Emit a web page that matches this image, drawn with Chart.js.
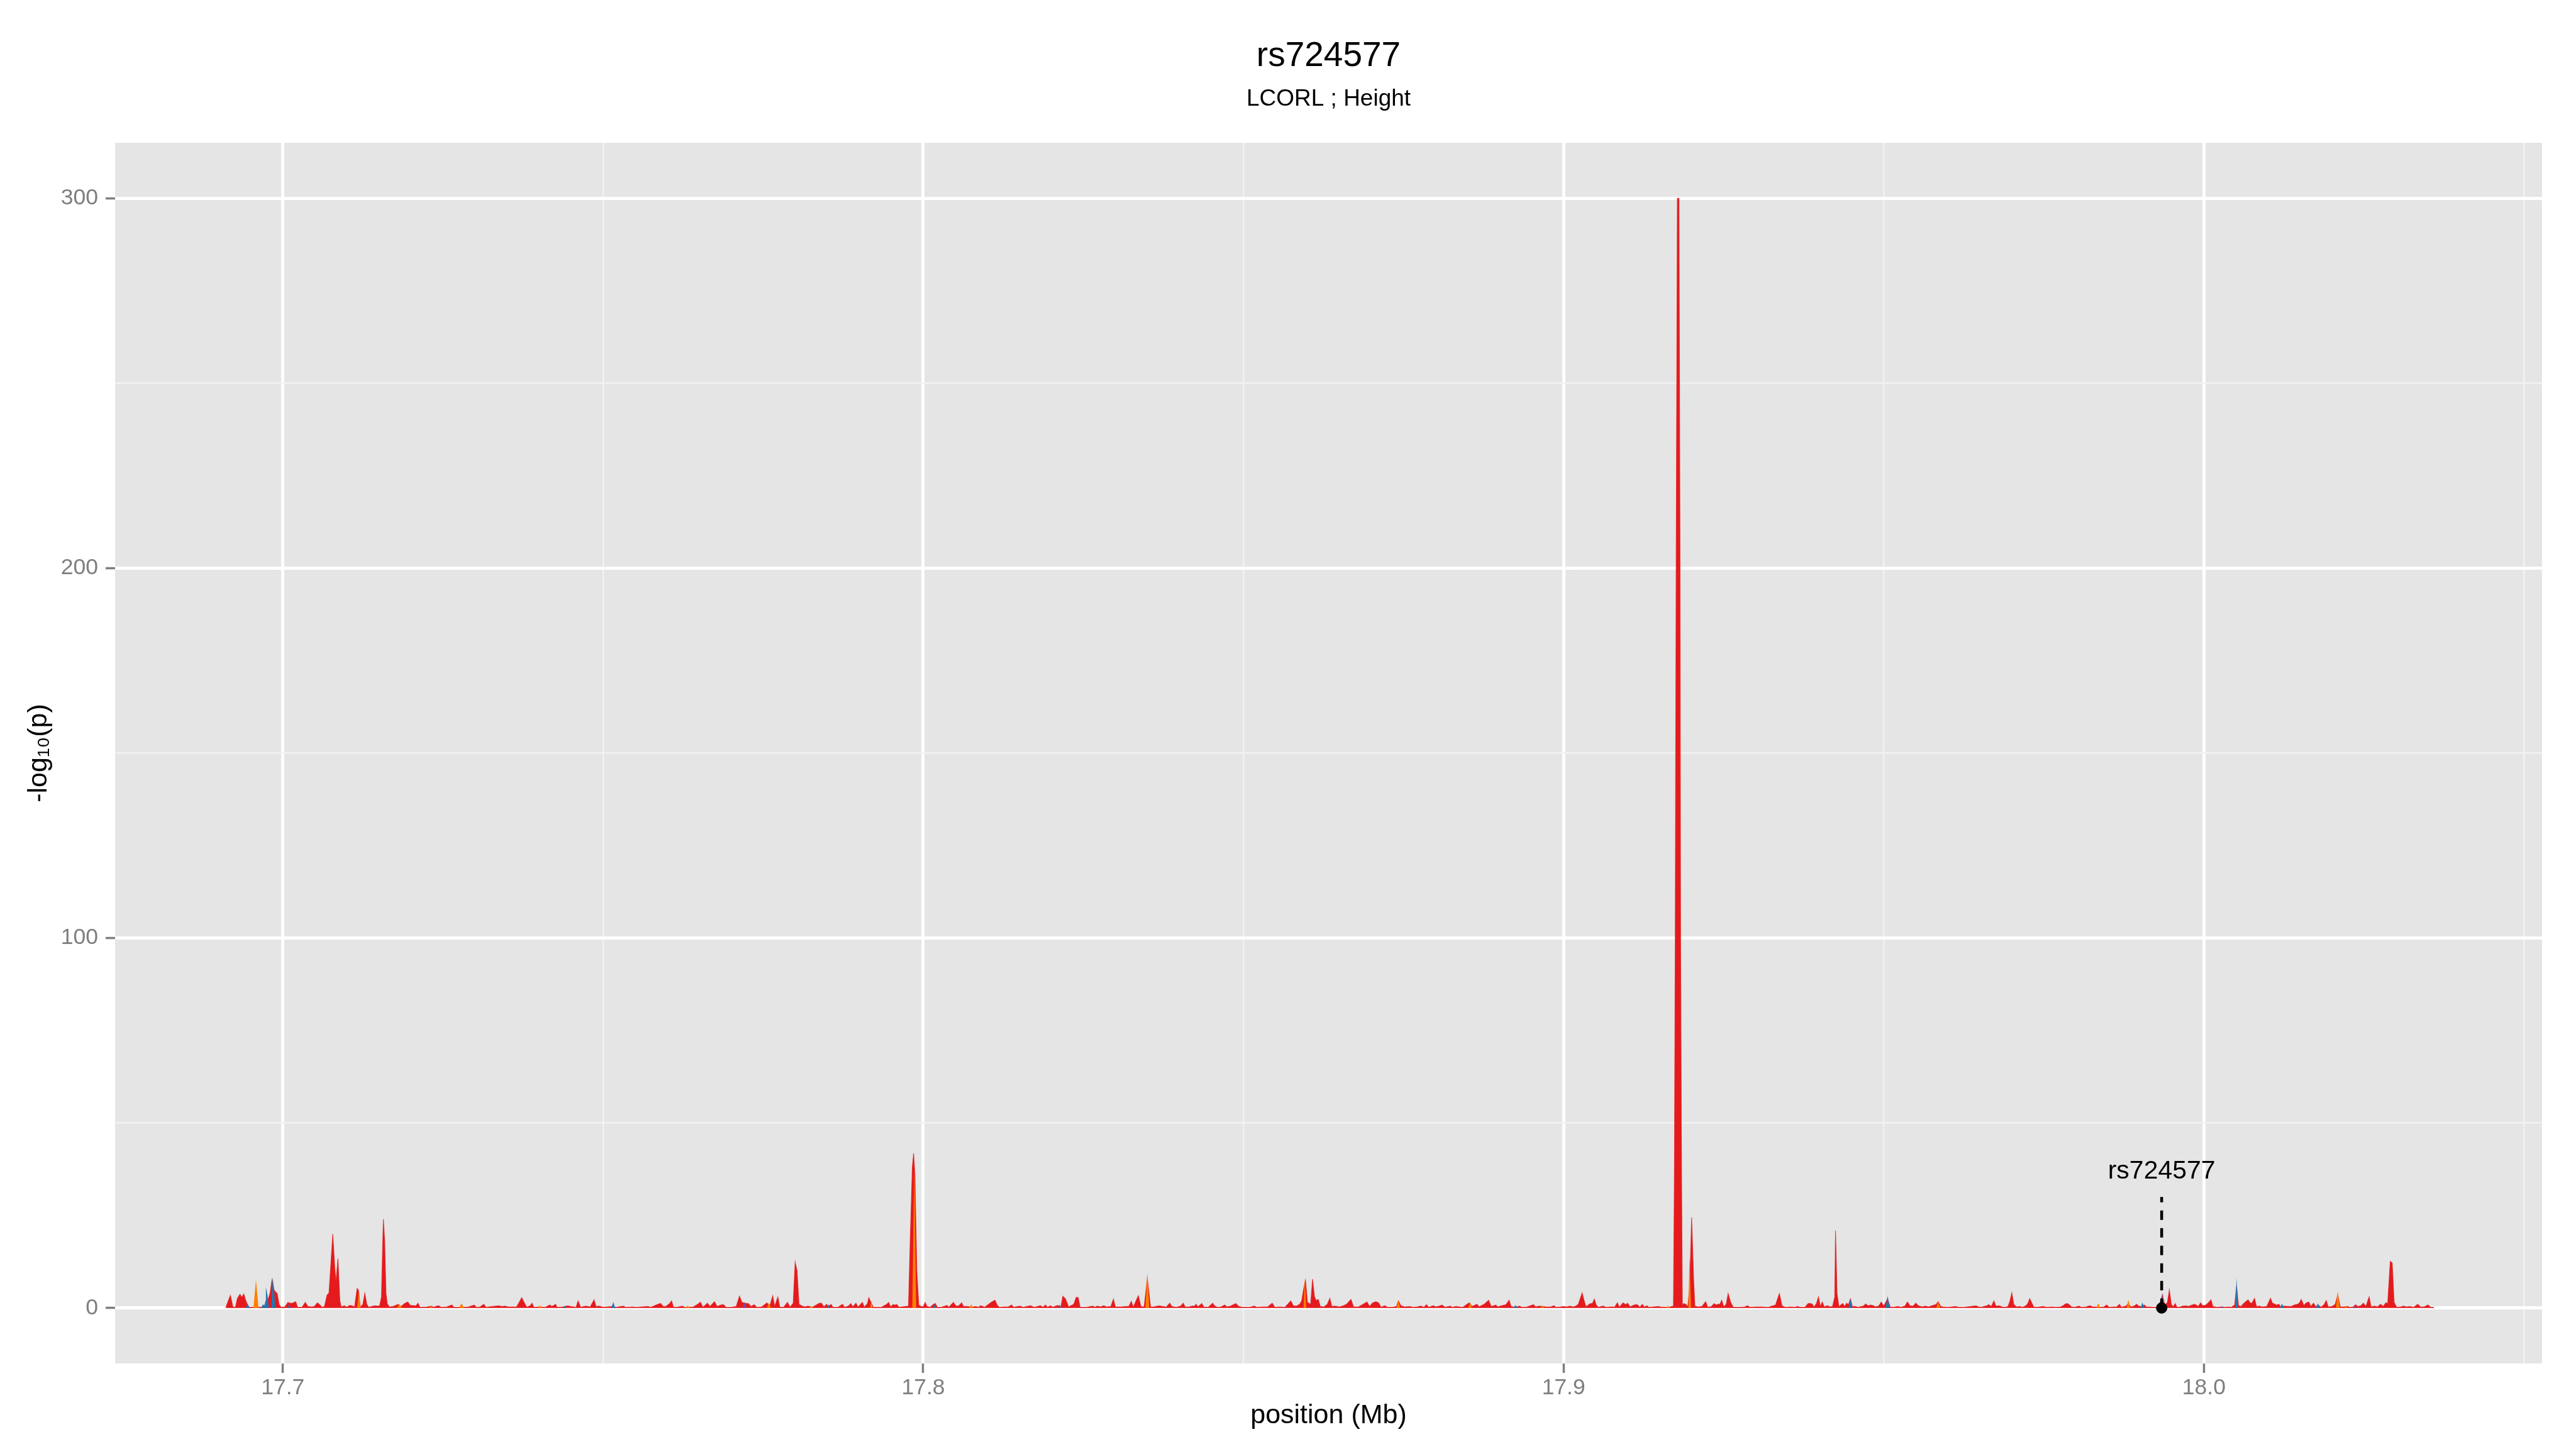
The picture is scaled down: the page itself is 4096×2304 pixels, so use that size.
<!DOCTYPE html>
<html>
<head>
<meta charset="utf-8">
<script src="https://cdn.jsdelivr.net/npm/chart.js@4.4.1/dist/chart.umd.min.js"></script>
<style>
  html, body { margin: 0; padding: 0; background: #ffffff; }
  canvas { display: block; }
</style>
</head>
<body>
<canvas id="assocChart" width="4096" height="2304" style="width:4096px;height:2304px"></canvas>
<script>
// -log10(p) along position (Mb), one list of [position, value] per colour group
const redPoints = [
  [17.6911,0.2],[17.6918,3.4],[17.6922,0.3],[17.6926,0.2],[17.6929,2.6],[17.6933,3.7],[17.6936,2.9],[17.6939,3.8],
  [17.6942,2.0],[17.6944,1.2],[17.6947,0.2],[17.6953,0.2],[17.6960,0.3],[17.6966,0.2],[17.6972,0.8],[17.6976,1.8],
  [17.6980,4.0],[17.6983,7.6],[17.6986,5.0],[17.6989,4.2],[17.6991,4.0],[17.6994,1.0],[17.6997,0.2],[17.7003,0.3],
  [17.7008,1.5],[17.7011,1.3],[17.7015,1.3],[17.7020,1.7],[17.7023,0.2],[17.7030,0.2],[17.7035,1.5],[17.7039,0.4],
  [17.7045,0.3],[17.7049,0.4],[17.7054,1.4],[17.7058,0.8],[17.7061,0.2],[17.7065,0.4],[17.7069,3.5],[17.7072,4.0],
  [17.7075,12],[17.7078,20],[17.7081,11],[17.7083,7],[17.7086,13.4],[17.7089,2.0],[17.7091,0.3],[17.7096,0.6],
  [17.7100,0.2],[17.7104,0.7],[17.7108,0.6],[17.7112,0.3],[17.7116,5.3],[17.7118,4.8],[17.7121,0.2],[17.7125,1.0],
  [17.7128,4.0],[17.7131,1.0],[17.7134,0.2],[17.7143,0.6],[17.7151,0.5],[17.7154,3.0],[17.7156,18],[17.7157,24],
  [17.7159,18],[17.7161,4.0],[17.7163,1.2],[17.7166,0.3],[17.7172,0.4],[17.7180,1.0],[17.7184,0.3],[17.7190,1.2],
  [17.7195,1.6],[17.7199,0.7],[17.7208,0.6],[17.7211,1.3],[17.7214,0.2],[17.7225,0.3],[17.7232,0.5],[17.7235,0.2],
  [17.7243,0.6],[17.7247,0.2],[17.7256,0.3],[17.7264,0.8],[17.7267,0.2],[17.7283,0.2],[17.7290,0.3],[17.7299,0.8],
  [17.7302,0.2],[17.7308,0.3],[17.7314,1.0],[17.7317,0.2],[17.7327,0.4],[17.7337,0.6],[17.7342,0.4],[17.7347,0.5],
  [17.7352,0.3],[17.7365,0.3],[17.7369,1.5],[17.7373,2.8],[17.7377,1.4],[17.7381,0.2],[17.7386,0.6],[17.7389,1.3],
  [17.7392,0.2],[17.7400,0.3],[17.7410,0.2],[17.7417,0.8],[17.7420,0.4],[17.7426,1.0],[17.7428,0.2],[17.7437,0.3],
  [17.7445,0.6],[17.7449,0.4],[17.7458,0.2],[17.7461,1.9],[17.7465,0.2],[17.7473,0.5],[17.7480,0.3],[17.7486,2.2],
  [17.7489,0.4],[17.7494,0.5],[17.7500,0.2],[17.7514,0.4],[17.7520,0.2],[17.7532,0.5],[17.7535,0.2],[17.7546,0.3],
  [17.7552,0.2],[17.7570,0.4],[17.7575,0.2],[17.7587,1.1],[17.7590,1.2],[17.7594,0.4],[17.7598,0.4],[17.7604,1.2],
  [17.7607,1.9],[17.7610,0.2],[17.7618,0.3],[17.7624,0.5],[17.7627,0.2],[17.7641,0.3],[17.7648,1.0],[17.7652,1.6],
  [17.7656,0.2],[17.7663,1.3],[17.7667,0.4],[17.7674,1.7],[17.7678,0.4],[17.7684,0.8],[17.7688,0.9],[17.7692,0.2],
  [17.7700,0.2],[17.7708,0.4],[17.7713,3.2],[17.7717,1.5],[17.7722,1.3],[17.7727,1.2],[17.7731,0.4],[17.7736,0.9],
  [17.7740,0.2],[17.7748,0.3],[17.7756,1.4],[17.7760,0.3],[17.7765,3.3],[17.7768,0.4],[17.7773,3.0],[17.7776,0.3],
  [17.7782,0.2],[17.7788,1.5],[17.7792,0.2],[17.7797,1.3],[17.7800,12.4],[17.7803,10],[17.7806,1.0],[17.7810,0.6],
  [17.7815,0.3],[17.7820,0.5],[17.7827,0.2],[17.7838,1.3],[17.7841,1.3],[17.7845,0.3],[17.7849,1.0],[17.7852,0.4],
  [17.7856,1.0],[17.7859,0.2],[17.7867,0.2],[17.7874,1.0],[17.7877,0.2],[17.7883,0.5],[17.7887,1.2],[17.7890,0.3],
  [17.7895,1.3],[17.7898,0.2],[17.7905,1.5],[17.7908,0.2],[17.7913,1.2],[17.7915,2.8],[17.7919,1.3],[17.7922,0.2],
  [17.7935,0.2],[17.7943,1.0],[17.7946,1.5],[17.7949,0.3],[17.7953,0.9],[17.7956,0.8],[17.7959,0.9],[17.7962,0.2],
  [17.7977,0.5],[17.7980,20],[17.7983,38],[17.7985,41.8],[17.7987,36],[17.7990,10],[17.7993,0.8],[17.7997,0.4],
  [17.8000,0.3],[17.8003,1.5],[17.8006,0.4],[17.8011,0.2],[17.8016,1.0],[17.8019,1.2],[17.8022,0.2],[17.8028,0.2],
  [17.8034,0.5],[17.8037,0.7],[17.8040,0.2],[17.8047,1.5],[17.8051,0.6],[17.8055,0.5],[17.8060,1.4],[17.8063,0.4],
  [17.8070,0.4],[17.8075,0.2],[17.8082,0.4],[17.8086,0.2],[17.8090,0.6],[17.8096,0.2],[17.8102,1.0],[17.8107,1.6],
  [17.8112,2.1],[17.8116,0.6],[17.8119,0.2],[17.8125,0.3],[17.8133,0.3],[17.8138,0.8],[17.8141,0.2],[17.8151,0.5],
  [17.8156,0.2],[17.8168,0.6],[17.8170,0.4],[17.8174,0.2],[17.8183,0.6],[17.8187,0.2],[17.8191,0.8],[17.8194,0.2],
  [17.8199,0.6],[17.8202,0.2],[17.8210,0.7],[17.8215,0.3],[17.8218,3.2],[17.8222,2.5],[17.8227,0.3],[17.8235,1.0],
  [17.8239,2.9],[17.8242,2.8],[17.8245,0.2],[17.8255,0.2],[17.8265,0.5],[17.8268,0.2],[17.8272,0.5],[17.8277,0.3],
  [17.8282,0.6],[17.8286,0.3],[17.8293,0.4],[17.8297,2.4],[17.8300,0.3],[17.8310,0.3],[17.8316,0.4],[17.8321,0.4],
  [17.8325,1.8],[17.8328,0.2],[17.8334,2.6],[17.8336,3.3],[17.8340,0.4],[17.8345,0.3],[17.8350,8.0],[17.8355,0.3],
  [17.8360,0.3],[17.8368,0.6],[17.8374,0.4],[17.8380,0.3],[17.8385,1.3],[17.8388,0.4],[17.8395,0.2],[17.8402,0.5],
  [17.8406,1.3],[17.8409,0.3],[17.8415,0.3],[17.8420,0.5],[17.8424,0.5],[17.8426,1.0],[17.8429,0.3],[17.8435,1.2],
  [17.8438,0.3],[17.8445,0.2],[17.8452,1.3],[17.8455,0.6],[17.8459,0.2],[17.8465,0.3],[17.8471,0.8],[17.8474,0.3],
  [17.8480,0.5],[17.8488,1.2],[17.8493,0.4],[17.8498,0.2],[17.8510,0.2],[17.8517,0.5],[17.8521,0.2],[17.8529,0.3],
  [17.8538,0.3],[17.8545,1.3],[17.8549,0.2],[17.8557,0.3],[17.8565,0.2],[17.8574,1.9],[17.8578,0.6],[17.8583,0.5],
  [17.8588,1.0],[17.8591,1.9],[17.8594,5.0],[17.8597,7.5],[17.8600,1.5],[17.8605,1.0],[17.8608,7.8],[17.8611,3.0],
  [17.8614,2.0],[17.8617,2.3],[17.8620,0.4],[17.8626,0.3],[17.8631,1.0],[17.8635,2.6],[17.8638,0.4],[17.8643,0.5],
  [17.8650,0.3],[17.8656,0.6],[17.8661,1.0],[17.8668,2.3],[17.8672,0.3],[17.8680,0.3],[17.8687,1.0],[17.8693,1.6],
  [17.8697,0.4],[17.8702,1.4],[17.8707,1.7],[17.8711,1.4],[17.8715,0.2],[17.8721,0.6],[17.8725,0.2],[17.8733,0.2],
  [17.8739,0.4],[17.8742,1.9],[17.8746,0.6],[17.8752,0.3],[17.8760,0.4],[17.8765,0.2],[17.8771,0.3],[17.8777,0.5],
  [17.8782,0.2],[17.8786,0.9],[17.8789,0.2],[17.8797,0.6],[17.8800,0.3],[17.8806,0.5],[17.8810,0.8],[17.8815,0.2],
  [17.8823,0.5],[17.8826,0.2],[17.8832,0.4],[17.8838,0.3],[17.8843,0.2],[17.8849,1.0],[17.8853,1.4],[17.8857,0.4],
  [17.8862,0.8],[17.8865,1.0],[17.8868,0.3],[17.8876,1.0],[17.8883,2.1],[17.8887,0.4],[17.8891,0.6],[17.8894,0.8],
  [17.8897,0.3],[17.8903,0.6],[17.8910,0.9],[17.8915,2.1],[17.8918,0.4],[17.8925,0.2],[17.8931,0.5],[17.8935,0.2],
  [17.8943,0.3],[17.8948,0.6],[17.8953,0.9],[17.8956,0.3],[17.8962,0.5],[17.8967,0.4],[17.8972,0.3],[17.8980,0.3],
  [17.8985,0.6],[17.8988,0.2],[17.8995,0.3],[17.9000,0.4],[17.9005,0.3],[17.9010,0.5],[17.9014,0.3],[17.9018,0.4],
  [17.9023,1.0],[17.9026,2.5],[17.9029,4.1],[17.9032,2.0],[17.9035,0.3],[17.9040,1.0],[17.9043,1.2],[17.9045,1.2],
  [17.9048,2.4],[17.9051,0.8],[17.9054,0.2],[17.9059,0.4],[17.9062,0.5],[17.9066,0.2],[17.9073,0.3],[17.9080,0.3],
  [17.9084,1.4],[17.9087,0.2],[17.9093,1.4],[17.9097,0.9],[17.9100,1.3],[17.9104,0.3],[17.9110,0.8],[17.9115,0.9],
  [17.9119,0.2],[17.9123,1.0],[17.9126,0.2],[17.9130,0.6],[17.9133,0.2],[17.9140,0.3],[17.9147,0.4],[17.9152,0.3],
  [17.9159,0.2],[17.9166,0.3],[17.91716,0.5],[17.91731,37],[17.91744,100],[17.91758,200],[17.91777,300],[17.91802,300],
  [17.91819,200],[17.91827,100],[17.91842,37],[17.91855,0.8],[17.9188,1.2],[17.9191,1.0],[17.9194,0.3],[17.9197,6],
  [17.9200,24.5],[17.9203,8],[17.9205,0.5],[17.9210,0.3],[17.9216,0.4],[17.9222,1.7],[17.9225,0.2],[17.9231,0.4],
  [17.9235,1.2],[17.9238,0.8],[17.9241,1.0],[17.9244,1.0],[17.9247,2.1],[17.9250,0.3],[17.9254,1.0],[17.9257,3.9],
  [17.9261,1.5],[17.9265,0.2],[17.9275,0.2],[17.9283,0.3],[17.9287,0.6],[17.9291,0.2],[17.9300,0.3],[17.9310,0.3],
  [17.9320,0.2],[17.9331,0.8],[17.9337,3.9],[17.9341,0.6],[17.9346,0.2],[17.9355,0.3],[17.9362,0.2],[17.9365,0.4],
  [17.9370,0.2],[17.9377,0.2],[17.9382,1.2],[17.9386,1.2],[17.9389,0.9],[17.9391,0.2],[17.9395,1.2],[17.9398,3.0],
  [17.9401,0.4],[17.9404,1.6],[17.9407,0.3],[17.9412,0.6],[17.9416,0.3],[17.9420,0.4],[17.94235,3.0],[17.94247,20.9],
  [17.9427,4.0],[17.9430,0.3],[17.9433,0.8],[17.9436,1.2],[17.9439,0.4],[17.9442,1.3],[17.9445,0.9],[17.9448,2.5],
  [17.9451,0.4],[17.9456,0.4],[17.9460,0.2],[17.9468,0.5],[17.9472,1.1],[17.9475,0.6],[17.9480,0.8],[17.9484,0.6],
  [17.9487,0.3],[17.9492,0.5],[17.9496,1.6],[17.9500,0.5],[17.9506,2.5],[17.9510,0.3],[17.9515,0.2],[17.9522,0.4],
  [17.9527,0.2],[17.9533,0.5],[17.9537,1.6],[17.9541,0.6],[17.9546,0.5],[17.9550,1.3],[17.9554,0.6],[17.9560,0.3],
  [17.9565,0.5],[17.9570,0.3],[17.9575,0.6],[17.9579,0.8],[17.9582,1.0],[17.9585,1.7],[17.9589,0.4],[17.9593,0.3],
  [17.9600,0.2],[17.9606,0.3],[17.9612,0.4],[17.9617,0.2],[17.9625,0.2],[17.9636,0.4],[17.9644,0.6],[17.9648,0.3],
  [17.9652,0.2],[17.9661,0.6],[17.9664,0.9],[17.9668,0.4],[17.9672,1.9],[17.9675,0.5],[17.9680,0.6],[17.9685,0.3],
  [17.9690,0.2],[17.9694,0.4],[17.9697,1.8],[17.9700,4.1],[17.9703,1.0],[17.9707,0.3],[17.9712,0.4],[17.9717,0.2],
  [17.9722,0.6],[17.9725,1.2],[17.9728,2.5],[17.9731,1.4],[17.9734,0.3],[17.9740,0.2],[17.9748,0.4],[17.9755,0.2],
  [17.9762,0.3],[17.9770,0.2],[17.9776,0.3],[17.9780,0.6],[17.9783,1.0],[17.9786,1.2],[17.9789,1.0],[17.9793,0.3],
  [17.9798,0.2],[17.9805,0.5],[17.9808,0.2],[17.9816,0.3],[17.9822,0.6],[17.9826,0.3],[17.9830,0.3],[17.9838,0.2],
  [17.9844,0.3],[17.9848,0.8],[17.9852,0.2],[17.9858,0.3],[17.9864,0.3],[17.9868,1.0],[17.9871,0.2],[17.9878,0.5],
  [17.9882,1.2],[17.9886,0.3],[17.9891,0.5],[17.9895,1.0],[17.9898,0.5],[17.9903,0.4],[17.9907,0.8],[17.9910,0.3],
  [17.9915,0.3],[17.9920,0.2],[17.9926,0.2],[17.9930,0.6],[17.9935,3.5],[17.9939,0.8],[17.9943,1.5],[17.9946,4.9],
  [17.9949,1.0],[17.9952,0.3],[17.9955,1.2],[17.9958,0.2],[17.9963,0.3],[17.9967,0.5],[17.9972,0.6],[17.9976,0.4],
  [17.9980,0.7],[17.9985,1.0],[17.9988,0.8],[17.9991,0.4],[17.9995,1.4],[17.9998,0.6],[18.0003,0.8],[18.0008,1.6],
  [18.0011,2.2],[18.0014,0.4],[18.0020,0.2],[18.0026,0.3],[18.0031,0.2],[18.0038,0.3],[18.0043,0.2],[18.0048,0.8],
  [18.0051,6.0],[18.0054,0.6],[18.0058,0.4],[18.0062,1.2],[18.0066,1.8],[18.0069,2.2],[18.0072,1.4],[18.0075,1.3],
  [18.0079,2.6],[18.0082,0.4],[18.0086,0.5],[18.0091,0.3],[18.0098,0.4],[18.0104,2.6],[18.0107,1.3],[18.0110,1.1],
  [18.0113,0.8],[18.0117,1.0],[18.0120,0.3],[18.0126,0.5],[18.0131,0.4],[18.0136,0.4],[18.0141,0.8],[18.0146,1.0],
  [18.0149,1.3],[18.0152,2.3],[18.0156,0.7],[18.0160,1.4],[18.0164,1.6],[18.0167,0.4],[18.0171,1.3],[18.0175,0.3],
  [18.0178,0.8],[18.0183,0.2],[18.0188,1.0],[18.0191,2.0],[18.0194,0.3],[18.0200,0.4],[18.0205,1.0],[18.0209,3.5],
  [18.0213,0.3],[18.0218,0.3],[18.0224,0.4],[18.0228,0.2],[18.0233,0.3],[18.0237,0.9],[18.0240,0.4],[18.0245,0.6],
  [18.0249,1.3],[18.0253,0.4],[18.0256,2.0],[18.0258,3.0],[18.0261,0.3],[18.0266,0.5],[18.0271,0.3],[18.0276,1.0],
  [18.0280,0.4],[18.0284,1.4],[18.0287,1.2],[18.0289,7.0],[18.0291,12.6],[18.0294,12.2],[18.0297,1.5],[18.0301,0.2],
  [18.0307,0.3],[18.0312,0.5],[18.0316,0.3],[18.0321,0.4],[18.0328,0.2],[18.0334,1.0],[18.0338,0.3],[18.0344,0.3],
  [18.0350,0.8],[18.0354,0.2],[18.0359,0.2]
];

const orangePoints = [
  [17.6954,0],[17.6958,7.6],[17.6962,0],[17.7116,0],[17.7119,4.5],[17.7121,0],[17.7178,0],[17.7182,1.1],[17.7186,0],
  [17.7228,0],[17.7231,0.5],[17.7234,0],[17.7275,0],[17.7279,1.3],[17.7283,0],[17.7399,0],[17.7402,0.7],[17.7405,0],
  [17.7628,0],[17.7632,0.6],[17.7636,0],[17.7756,0],[17.7759,1.4],[17.7762,0],[17.7821,0],[17.7825,0.5],[17.7829,0],
  [17.7917,0],[17.7919,2.0],[17.7921,0],[17.7983,0],[17.7986,38],[17.7989,0],[17.8072,0],[17.8075,1.0],[17.8078,0],
  [17.8347,0],[17.8350,9.6],[17.8353,0],[17.8594,0],[17.8596,8.0],[17.8598,0],[17.8739,0],[17.8742,1.9],[17.8745,0],
  [17.8851,0],[17.8854,1.4],[17.8857,0],[17.8964,0],[17.8967,0.7],[17.8970,0],[17.9160,0],[17.9163,0.6],[17.9166,0],
  [17.9195,0],[17.91967,14],[17.9199,0],[17.9582,0],[17.9585,1.7],[17.9588,0],[17.9832,0],[17.9835,1.3],[17.9838,0],
  [17.9879,0],[17.9882,2.2],[17.9885,0],[18.0206,0],[18.0209,4.6],[18.0212,0],[18.0219,0],[18.0222,0.4],[18.0225,0]
];

const bluePoints = [
  [17.6942,0],[17.6945,1.1],[17.6948,0],[17.6966,0],[17.6969,1.0],[17.6971,0.6],[17.6973,2.0],[17.69735,5.6],
  [17.6976,3.5],[17.6978,0],[17.6982,0],[17.6984,8.2],[17.6986,5.5],[17.6988,0],[17.7008,0],[17.7010,1.2],[17.7012,0],
  [17.7437,0],[17.7440,0.5],[17.7443,0],[17.7513,0],[17.7516,1.6],[17.7519,0],[17.7850,0],[17.7852,1.0],[17.7854,0],
  [17.8016,0],[17.8018,1.0],[17.8020,0],[17.8211,0],[17.8213,1.0],[17.8215,0],[17.8922,0],[17.8925,0.8],[17.8928,0],
  [17.9445,0],[17.9448,2.5],[17.9451,0],[17.9503,0],[17.9506,3.3],[17.9509,0],[17.9901,0],[17.9904,1.5],[17.9907,0],
  [18.0049,0],[18.0051,8.2],[18.0053,0],[18.0119,0],[18.0122,1.2],[18.0125,0],[18.0175,0],[18.0178,1.3],[18.0181,0]
];

const purplePoints = [
  [17.7718,0],[17.7721,1.6],[17.7724,0],[17.9933,0],[17.99357,4.3],[17.9938,0],
  [18.0026,0],[18.0029,0.5],[18.0032,0],[18.0233,0],[18.0236,0.6],[18.0239,0]
];

// index SNP
const snpName = 'rs724577';
const snpPos = 17.9934;
const snpValue = 0;
const snpLineTop = 30;
const snpLabelAt = 35;

// axes
const xMin = 17.6738, xMax = 18.0528;
const yMin = -15, yMax = 315;
const xTickValues = [17.7, 17.75, 17.8, 17.85, 17.9, 17.95, 18.0, 18.05];
const xTickLabels = ['17.7', '', '17.8', '', '17.9', '', '18.0', ''];
const yTickValues = [0, 50, 100, 150, 200, 250, 300];
const yTickLabels = ['0', '', '100', '', '200', '', '300'];

const toXY = pts => pts.map(p => ({ x: p[0], y: p[1] }));

Chart.defaults.font.family = "'Liberation Sans', Arial, Helvetica, sans-serif";
Chart.defaults.color = '#000000';

// grey panel behind the plot
const panelBg = {
  id: 'panelBg',
  beforeDraw(chart) {
    const { ctx, chartArea: a } = chart;
    ctx.save();
    ctx.fillStyle = '#E5E5E5';
    ctx.fillRect(a.left, a.top, a.right - a.left, a.bottom - a.top);
    ctx.restore();
  }
};

// text label above the SNP marker
const snpLabel = {
  id: 'snpLabel',
  afterDatasetsDraw(chart) {
    const { ctx, scales: { x, y } } = chart;
    ctx.save();
    ctx.font = "41px 'Liberation Sans', Arial, sans-serif";
    ctx.fillStyle = '#000000';
    ctx.textAlign = 'center';
    ctx.textBaseline = 'alphabetic';
    ctx.fillText(snpName, x.getPixelForValue(snpPos), y.getPixelForValue(snpLabelAt));
    ctx.restore();
  }
};

function gridOpts(labels) {
  return {
    drawOnChartArea: true,
    drawTicks: true,
    tickLength: 15,
    color: c => labels[c.index] ? '#FFFFFF' : '#F2F2F2',
    lineWidth: c => labels[c.index] ? 5 : 2.5,
    tickColor: c => labels[c.index] ? '#7F7F7F' : 'rgba(0,0,0,0)',
    tickWidth: 3.5
  };
}

const areaBase = { fill: 'origin', pointRadius: 0, tension: 0, spanGaps: false };

new Chart(document.getElementById('assocChart').getContext('2d'), {
  type: 'line',
  data: {
    datasets: [
      { ...areaBase, label: 'red', data: toXY(redPoints), backgroundColor: '#E41A1C',
        borderColor: 'rgba(228,26,28,0.75)', borderWidth: 1.2, order: 5 },
      { ...areaBase, label: 'orange', data: toXY(orangePoints), backgroundColor: '#FF7F00',
        borderColor: '#FF7F00', borderWidth: 0, order: 4 },
      { ...areaBase, label: 'blue', data: toXY(bluePoints), backgroundColor: '#1F78B4',
        borderColor: '#1F78B4', borderWidth: 0, order: 3 },
      { ...areaBase, label: 'purple', data: toXY(purplePoints), backgroundColor: '#7A4E9E',
        borderColor: '#7A4E9E', borderWidth: 0, order: 2 },
      { label: 'snpLine', data: [{ x: snpPos, y: snpValue }, { x: snpPos, y: snpLineTop }],
        fill: false, borderColor: '#000000', borderWidth: 4.5, borderDash: [15, 13],
        pointRadius: 0, order: 1 },
      { label: 'snp', type: 'scatter', data: [{ x: snpPos, y: snpValue }],
        backgroundColor: '#000000', borderColor: '#000000', pointRadius: 8.5, order: 0 }
    ]
  },
  options: {
    responsive: false,
    devicePixelRatio: 1,
    animation: false,
    events: [],
    layout: { padding: { left: 0, right: 54, top: 0, bottom: 0 } },
    plugins: {
      legend: { display: false },
      tooltip: { enabled: false },
      title: {
        display: true, text: snpName, fullSize: false, color: '#000000',
        font: { size: 55, weight: 'normal' }, padding: { top: 57, bottom: 0 }
      },
      subtitle: {
        display: true, text: 'LCORL ; Height', fullSize: false, color: '#000000',
        font: { size: 37, weight: 'normal' }, padding: { top: 12.8, bottom: 46.8 }
      }
    },
    scales: {
      x: {
        type: 'linear', min: xMin, max: xMax,
        afterBuildTicks: s => { s.ticks = xTickValues.map(v => ({ value: v })); },
        afterFit: s => { s.height = 136; },
        border: { display: false },
        grid: gridOpts(xTickLabels),
        ticks: {
          autoSkip: false, maxRotation: 0, padding: 3, color: '#7F7F7F',
          font: { size: 35.5 },
          callback: (v, i) => xTickLabels[i]
        },
        title: { display: true, text: 'position (Mb)', color: '#000000',
          font: { size: 43 }, padding: { top: 0, bottom: 27 } }
      },
      y: {
        type: 'linear', min: yMin, max: yMax,
        afterBuildTicks: s => { s.ticks = yTickValues.map(v => ({ value: v })); },
        afterFit: s => { s.width = 183; },
        border: { display: false },
        grid: gridOpts(yTickLabels),
        ticks: {
          autoSkip: false, padding: 12, color: '#7F7F7F',
          font: { size: 35.5 },
          callback: (v, i) => yTickLabels[i]
        },
        title: { display: true, text: '-log₁₀(p)', color: '#000000',
          font: { size: 43 }, padding: { top: 36, bottom: 0 } }
      }
    }
  },
  plugins: [panelBg, snpLabel]
});
</script>
</body>
</html>
